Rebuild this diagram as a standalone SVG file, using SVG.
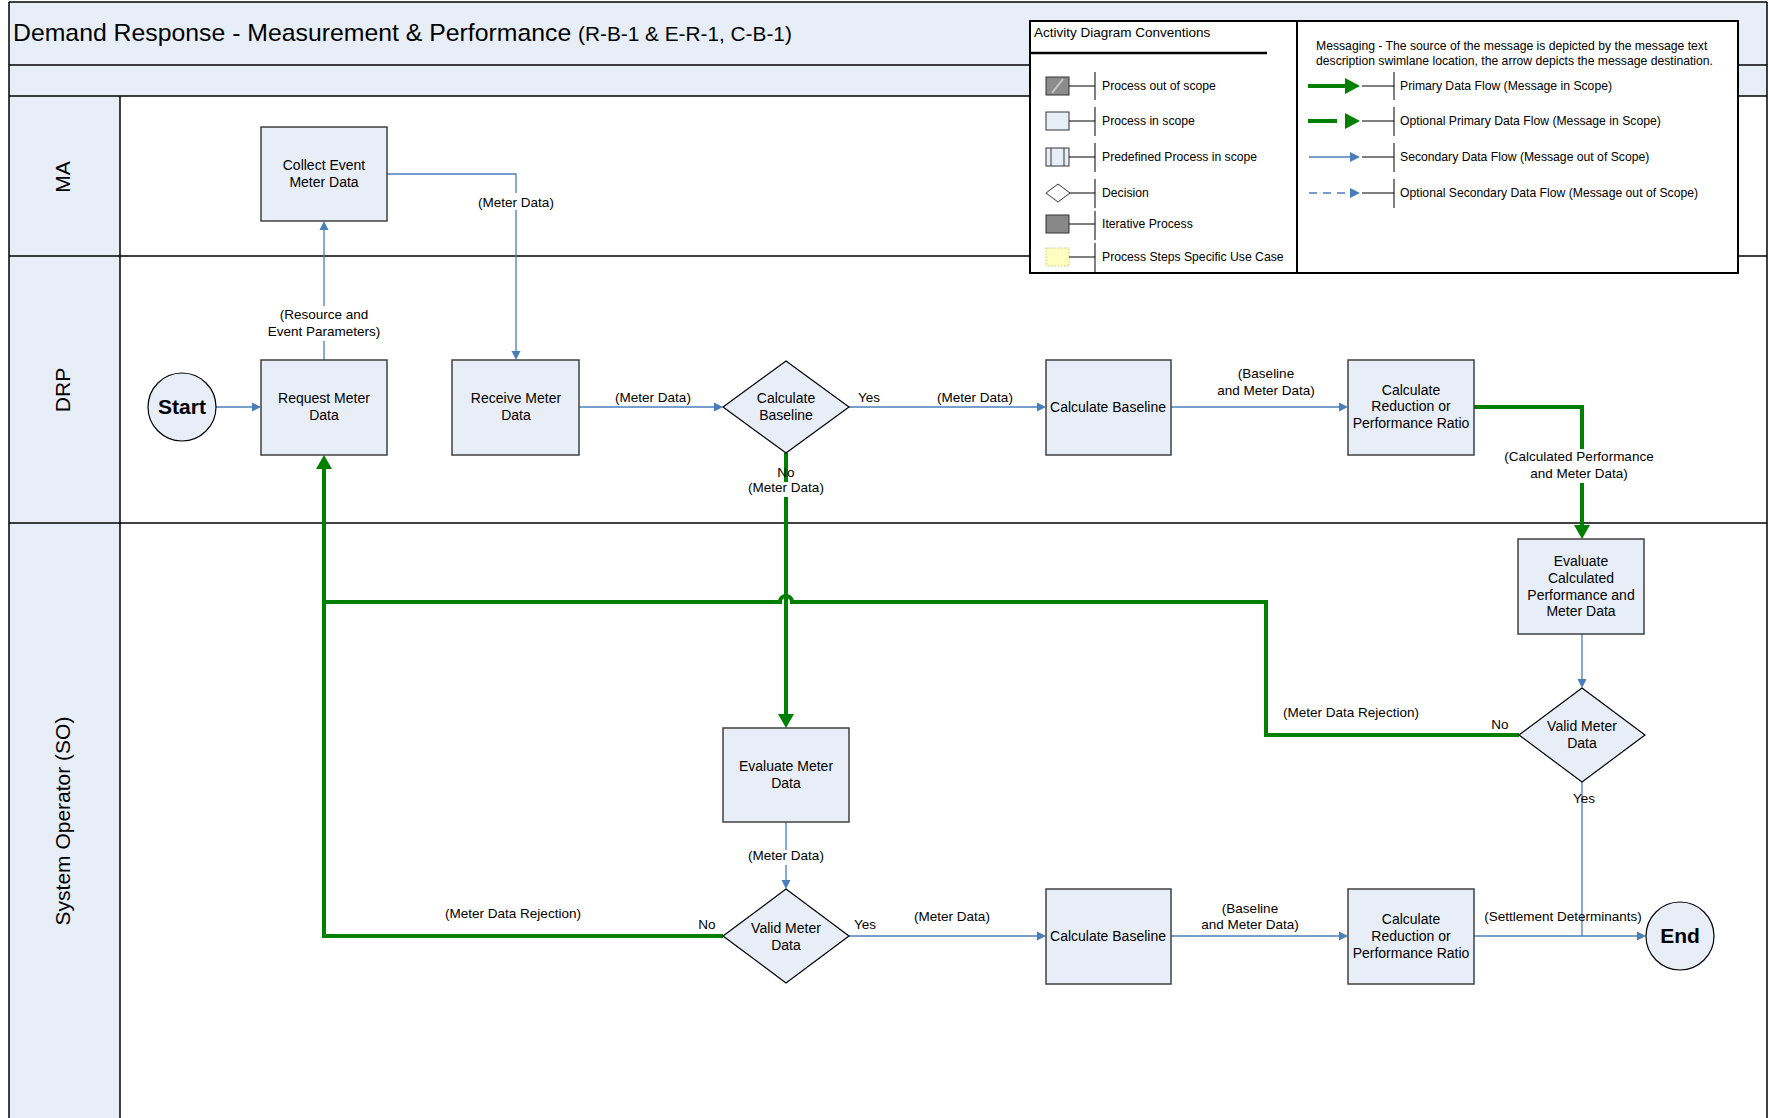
<svg xmlns="http://www.w3.org/2000/svg" width="1769" height="1118" viewBox="0 0 1769 1118">
<style>
text{font-family:"Liberation Sans",Arial,sans-serif;fill:#000}
.node{fill:#E8EEF7;stroke:#404040;stroke-width:1.5}
.dec{fill:#E8EEF7;stroke:#000;stroke-width:1.2}
.nt{font-size:14px;text-anchor:middle}
.lt{font-size:13.5px;text-anchor:middle}
.wb{fill:#fff;stroke:none}
.lane{font-size:21px;text-anchor:middle}
.lg{font-size:12.2px}
.blue{fill:none;stroke:#4A7EBB;stroke-width:1.3}
.green{fill:none;stroke:#008000;stroke-width:4}
.sep{stroke:#000;stroke-width:1.5;fill:none}
.tick{stroke:#000;stroke-width:1;fill:none}
.se{font-size:21px;font-weight:bold;text-anchor:middle}
</style>
<defs>
<marker id="ab" markerUnits="userSpaceOnUse" markerWidth="10" markerHeight="10" refX="0" refY="5" orient="auto" viewBox="0 0 10 10"><path d="M0,0.5 L9,5 L0,9.5 z" fill="#4A7EBB"/></marker>
<marker id="ag" markerUnits="userSpaceOnUse" markerWidth="15" markerHeight="16" refX="0" refY="8" orient="auto" viewBox="0 0 15 16"><path d="M0,0 L14,8 L0,16 z" fill="#008000"/></marker>
</defs>

<g id="frame">
<rect x="9" y="2" width="1758" height="94" fill="#E8EEF8" stroke="none"/>
<rect x="9" y="96" width="111" height="1022" fill="#E8EEF8" stroke="none"/>
<line class="sep" x1="9" y1="2" x2="1767" y2="2"/>
<line class="sep" x1="9" y1="2" x2="9" y2="1118"/>
<line class="sep" x1="1767" y1="2" x2="1767" y2="1118"/>
<line class="sep" x1="9" y1="65" x2="1767" y2="65"/>
<line class="sep" x1="9" y1="96" x2="1767" y2="96"/>
<line class="sep" x1="120" y1="96" x2="120" y2="1118"/>
<line class="sep" x1="9" y1="256" x2="1767" y2="256"/>
<line class="sep" x1="9" y1="523" x2="1767" y2="523"/>
<text x="13" y="41" font-size="24.8px">Demand Response - Measurement &amp; Performance <tspan font-size="20.8px">(R-B-1 &amp; E-R-1, C-B-1)</tspan></text>
<text class="lane" transform="translate(70,177) rotate(-90)">MA</text>
<text class="lane" transform="translate(70,390) rotate(-90)">DRP</text>
<text class="lane" transform="translate(70,821) rotate(-90)">System Operator (SO)</text>
</g>

<g id="legend">
<rect x="1030" y="21" width="708" height="252" fill="#fff" stroke="#000" stroke-width="2"/>
<line x1="1297" y1="21" x2="1297" y2="273" stroke="#000" stroke-width="2"/>
<text x="1034" y="37" font-size="13.5px">Activity Diagram Conventions</text>
<line x1="1030" y1="53" x2="1267" y2="53" stroke="#000" stroke-width="2.5"/>
<rect x="1046" y="77" width="23" height="18" fill="#8C8C8C" stroke="#333" stroke-width="1"/>
<line x1="1052" y1="93" x2="1063" y2="79" stroke="#C4C8D0" stroke-width="2"/>
<rect x="1046" y="112" width="23" height="18" fill="#E8EEF7" stroke="#333" stroke-width="1"/>
<rect x="1046" y="148" width="23" height="18" fill="#E8EEF7" stroke="#333" stroke-width="1"/>
<line x1="1051" y1="148" x2="1051" y2="166" stroke="#333" stroke-width="1"/>
<line x1="1064" y1="148" x2="1064" y2="166" stroke="#333" stroke-width="1"/>
<path d="M1058,184 L1070,193 L1058,202 L1046,193 z" fill="#fff" stroke="#333" stroke-width="1"/>
<rect x="1046" y="215" width="23" height="18" fill="#888" stroke="#333" stroke-width="1"/>
<rect x="1046" y="248" width="23" height="18" fill="#FFFFC0" stroke="#C8C890" stroke-width="1" stroke-dasharray="1.5,1.5"/>
<g class="tick">
<path d="M1069,86 H1095 M1095,72 V100"/>
<path d="M1069,121 H1095 M1095,107 V136"/>
<path d="M1069,157 H1095 M1095,143 V172"/>
<path d="M1070,193 H1095 M1095,179 V208"/>
<path d="M1069,224 H1095 M1095,211 V240"/>
<path d="M1069,257 H1095 M1095,243 V272"/>
</g>
<text class="lg" x="1102" y="90">Process out of scope</text>
<text class="lg" x="1102" y="125">Process in scope</text>
<text class="lg" x="1102" y="161">Predefined Process in scope</text>
<text class="lg" x="1102" y="197">Decision</text>
<text class="lg" x="1102" y="228">Iterative Process</text>
<text class="lg" x="1102" y="261">Process Steps Specific Use Case</text>
<text x="1316" y="50" font-size="12.2px">Messaging - The source of the message is depicted by the message text</text>
<text x="1316" y="65" font-size="12.2px">description swimlane location, the arrow depicts the message destination.</text>
<path d="M1308,86 H1345" stroke="#008000" stroke-width="4" fill="none"/>
<path d="M1345,78 L1360,86 L1345,94 z" fill="#008000"/>
<path d="M1308,121 H1337" stroke="#008000" stroke-width="4" fill="none"/>
<path d="M1345,113 L1360,121 L1345,129 z" fill="#008000"/>
<path d="M1309,157 H1350" stroke="#4A7EBB" stroke-width="1.3" fill="none"/>
<path d="M1350,152 L1360,157 L1350,162 z" fill="#4A7EBB"/>
<path d="M1309,193 H1350" stroke="#4A7EBB" stroke-width="1.3" fill="none" stroke-dasharray="8,6"/>
<path d="M1350,188 L1360,193 L1350,198 z" fill="#4A7EBB"/>
<g class="tick">
<path d="M1362,86 H1394 M1394,72 V100"/>
<path d="M1362,121 H1394 M1394,107 V136"/>
<path d="M1362,157 H1394 M1394,143 V172"/>
<path d="M1362,193 H1394 M1394,179 V208"/>
</g>
<text class="lg" x="1400" y="90">Primary Data Flow (Message in Scope)</text>
<text class="lg" x="1400" y="125">Optional Primary Data Flow (Message in Scope)</text>
<text class="lg" x="1400" y="161">Secondary Data Flow (Message out of Scope)</text>
<text class="lg" x="1400" y="197">Optional Secondary Data Flow (Message out of Scope)</text>
</g>

<g id="connectors">
<path class="blue" d="M216,407 H252" marker-end="url(#ab)"/>
<path class="blue" d="M324,360 V230" marker-end="url(#ab)"/>
<path class="blue" d="M387,174 H516 V351" marker-end="url(#ab)"/>
<path class="blue" d="M579,407 H714" marker-end="url(#ab)"/>
<path class="blue" d="M849,407 H1037" marker-end="url(#ab)"/>
<path class="blue" d="M1171,407 H1339" marker-end="url(#ab)"/>
<path class="blue" d="M1582,634 V679" marker-end="url(#ab)"/>
<path class="blue" d="M786,822 V880" marker-end="url(#ab)"/>
<path class="blue" d="M849,936 H1037" marker-end="url(#ab)"/>
<path class="blue" d="M1171,936 H1339" marker-end="url(#ab)"/>
<path class="blue" d="M1474,936 H1637" stroke-width="2" marker-end="url(#ab)"/>
<path class="blue" d="M1582,782 V936"/>
<path class="green" d="M1474,407 H1582 V525" marker-end="url(#ag)"/>
<path class="green" d="M786,453 V714" marker-end="url(#ag)"/>
<path class="green" d="M723,936 H324 V469" marker-end="url(#ag)"/>
<path class="green" d="M1519,735 H1266 V602 H792 A6,6 0 0 0 780,602 H324"/>
<rect class="wb" x="314" y="306" width="20" height="35"/>
<rect class="wb" x="506" y="193" width="20" height="17"/>
<rect class="wb" x="1572" y="449" width="20" height="34"/>
<rect class="wb" x="776" y="482" width="20" height="15"/>
<rect class="wb" x="776" y="850" width="20" height="15"/>
<text class="lt" x="324" y="319">(Resource and</text>
<text class="lt" x="324" y="336">Event Parameters)</text>
<text class="lt" x="516" y="207">(Meter Data)</text>
<text class="lt" x="653" y="402">(Meter Data)</text>
<text class="lt" x="869" y="402">Yes</text>
<text class="lt" x="975" y="402">(Meter Data)</text>
<text class="lt" x="1266" y="378">(Baseline</text>
<text class="lt" x="1266" y="395">and Meter Data)</text>
<text class="lt" x="1579" y="461">(Calculated Performance</text>
<text class="lt" x="1579" y="478">and Meter Data)</text>
<text class="lt" x="786" y="477">No</text>
<text class="lt" x="786" y="492">(Meter Data)</text>
<text class="lt" x="786" y="860">(Meter Data)</text>
<text class="lt" x="513" y="918">(Meter Data Rejection)</text>
<text class="lt" x="707" y="929">No</text>
<text class="lt" x="865" y="929">Yes</text>
<text class="lt" x="952" y="921">(Meter Data)</text>
<text class="lt" x="1250" y="913">(Baseline</text>
<text class="lt" x="1250" y="929">and Meter Data)</text>
<text class="lt" x="1563" y="921">(Settlement Determinants)</text>
<text class="lt" x="1351" y="717">(Meter Data Rejection)</text>
<text class="lt" x="1500" y="729">No</text>
<text class="lt" x="1584" y="803">Yes</text>
</g>

<g id="start"><ellipse cx="182" cy="407" rx="34" ry="34" fill="#E8EEF7" stroke="#000" stroke-width="1.2"/><text class="se" x="182" y="414">Start</text></g>
<g id="collect"><rect class="node" x="261" y="127" width="126" height="94"/><text class="nt" x="324" y="170">Collect Event</text><text class="nt" x="324" y="187">Meter Data</text></g>
<g id="request"><rect class="node" x="261" y="360" width="126" height="95"/><text class="nt" x="324" y="403">Request Meter</text><text class="nt" x="324" y="420">Data</text></g>
<g id="receive"><rect class="node" x="452" y="360" width="127" height="95"/><text class="nt" x="516" y="403">Receive Meter</text><text class="nt" x="516" y="420">Data</text></g>
<g id="dec-baseline"><path class="dec" d="M786,361 L849,407 L786,453 L723,407 z"/><text class="nt" x="786" y="403">Calculate</text><text class="nt" x="786" y="420">Baseline</text></g>
<g id="calc-baseline-drp"><rect class="node" x="1046" y="360" width="125" height="95"/><text class="nt" x="1108" y="412">Calculate Baseline</text></g>
<g id="calc-reduction-drp"><rect class="node" x="1348" y="360" width="126" height="95"/><text class="nt" x="1411" y="395">Calculate</text><text class="nt" x="1411" y="411">Reduction or</text><text class="nt" x="1411" y="428">Performance Ratio</text></g>
<g id="eval-calc"><rect class="node" x="1518" y="539" width="126" height="95"/><text class="nt" x="1581" y="566">Evaluate</text><text class="nt" x="1581" y="583">Calculated</text><text class="nt" x="1581" y="600">Performance and</text><text class="nt" x="1581" y="616">Meter Data</text></g>
<g id="valid-right"><path class="dec" d="M1582,688 L1645,735 L1582,782 L1519,735 z"/><text class="nt" x="1582" y="731">Valid Meter</text><text class="nt" x="1582" y="748">Data</text></g>
<g id="eval-meter"><rect class="node" x="723" y="728" width="126" height="94"/><text class="nt" x="786" y="771">Evaluate Meter</text><text class="nt" x="786" y="788">Data</text></g>
<g id="valid-bottom"><path class="dec" d="M786,889 L849,936 L786,983 L723,936 z"/><text class="nt" x="786" y="933">Valid Meter</text><text class="nt" x="786" y="950">Data</text></g>
<g id="calc-baseline-so"><rect class="node" x="1046" y="889" width="125" height="95"/><text class="nt" x="1108" y="941">Calculate Baseline</text></g>
<g id="calc-reduction-so"><rect class="node" x="1348" y="889" width="126" height="95"/><text class="nt" x="1411" y="924">Calculate</text><text class="nt" x="1411" y="941">Reduction or</text><text class="nt" x="1411" y="958">Performance Ratio</text></g>
<g id="end"><ellipse cx="1680" cy="936" rx="34" ry="34" fill="#E8EEF7" stroke="#000" stroke-width="1.2"/><text class="se" x="1680" y="943">End</text></g>
</svg>
